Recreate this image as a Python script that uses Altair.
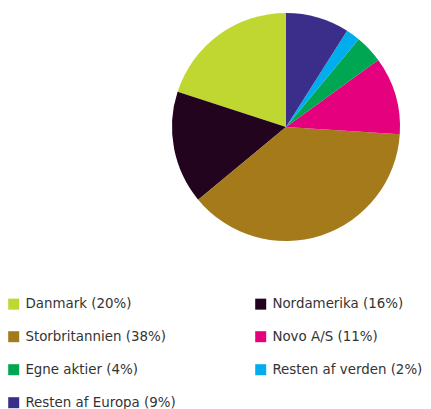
import altair as alt
import pandas as pd

categories = ["Danmark", "Nordamerika", "Storbritannien", "Novo A/S",
              "Egne aktier", "Resten af verden", "Resten af Europa"]
shares = [20, 16, 38, 11, 4, 2, 9]
colors = ["#bfd730", "#22041f", "#a57a1b", "#e5007e", "#00a651", "#00aeef", "#3b2d8a"]
# clockwise order of slices starting at 12 o'clock
slice_order = [7, 6, 5, 4, 3, 2, 1]

labels = [f"{c} ({s}%)" for c, s in zip(categories, shares)]
df = pd.DataFrame({"label": labels, "share": shares, "ord": slice_order})

chart = alt.Chart(df).mark_arc(outerRadius=114, stroke=None).encode(
    theta=alt.Theta("share:Q", stack=True),
    order=alt.Order("ord:Q", sort="ascending"),
    x=alt.value(278),
    y=alt.value(119),
    color=alt.Color(
        "label:N",
        scale=alt.Scale(domain=labels, range=colors),
        sort=None,
        legend=alt.Legend(
            title=None,
            orient="none",
            legendX=-1,
            legendY=289,
            columns=2,
            direction="horizontal",
            symbolType="square",
            symbolSize=121,
            symbolStrokeWidth=0,
            labelFont="DejaVu Sans",
            labelFontSize=13.4,
            labelColor="#333333",
            labelOffset=5,
            rowPadding=18,
            columnPadding=78,
            labelLimit=300,
            padding=0,
        ),
    ),
).properties(
    width=415, height=401, padding=0, autosize="none"
).configure_view(stroke=None)

chart.save("out.html", embed_options={"renderer": "svg", "actions": False})
